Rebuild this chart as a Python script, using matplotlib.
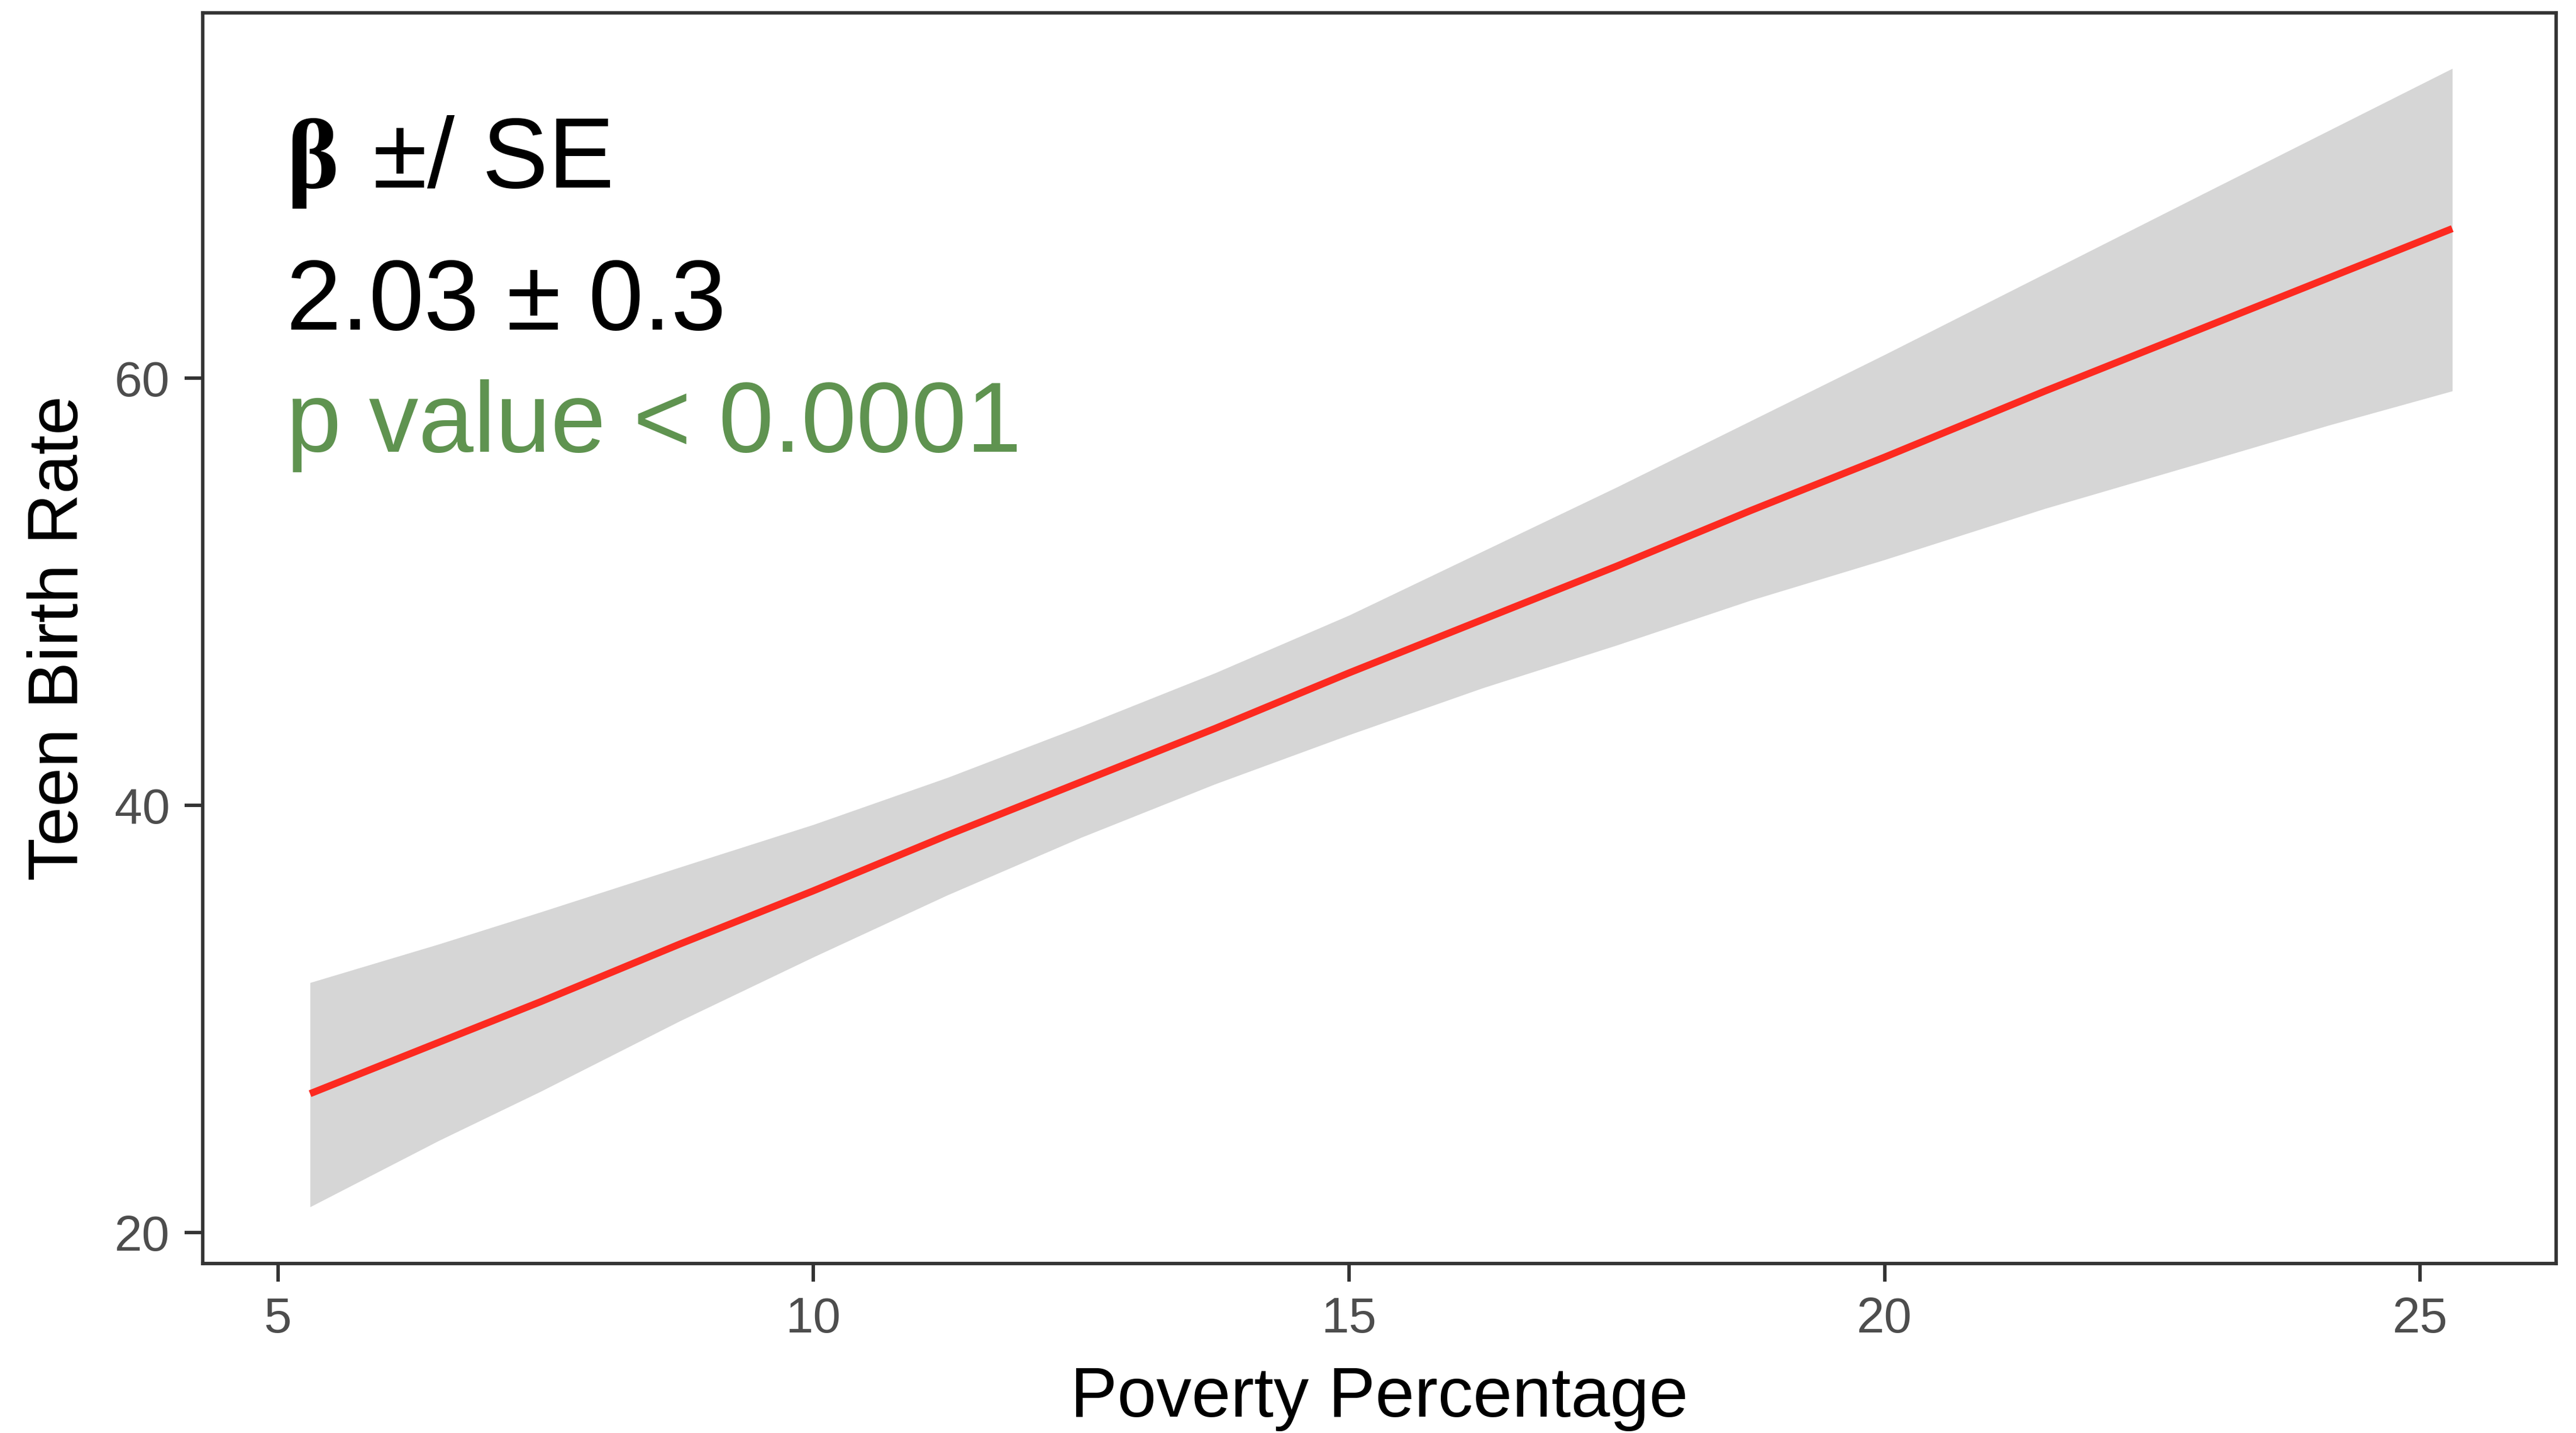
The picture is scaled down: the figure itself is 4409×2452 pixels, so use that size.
import matplotlib
matplotlib.use("Agg")
import matplotlib.pyplot as plt

plt.rcParams['font.family'] = ['Liberation Sans', 'DejaVu Sans']

# fitted line and its confidence band, teen birth rate vs poverty %
poverty = [5.3, 6.5, 7.45, 8.75, 10, 11.25, 12.5, 13.75, 15,
           16.25, 17.5, 18.75, 20, 21.5, 23.0, 24.15, 25.3]
fit = [26.5, 28.9, 30.8, 33.5, 36.0, 38.6, 41.1, 43.6, 46.2,
       48.7, 51.2, 53.8, 56.3, 59.4, 62.4, 64.7, 67.0]
upper = [31.7, 33.5, 35.0, 37.1, 39.1, 41.3, 43.7, 46.2, 48.9,
         51.9, 54.9, 58.0, 61.1, 64.9, 68.7, 71.6, 74.5]
lower = [21.2, 24.3, 26.6, 29.9, 32.9, 35.8, 38.5, 41.0, 43.3,
         45.5, 47.5, 49.6, 51.5, 53.9, 56.1, 57.8, 59.4]

xticks = [5, 10, 15, 20, 25]
yticks = [20, 40, 60]

beta = "\u03b2"
header = "\u00b1/ SE"
estimate = "2.03 \u00b1 0.3"
pvalue = "p value < 0.0001"

fig = plt.figure(figsize=(4409 / 300, 2452 / 300), dpi=300)
ax = fig.add_axes([0.0787, 0.1183, 0.9136, 0.8727])

ax.fill_between(poverty, lower, upper, color="#d6d6d6", linewidth=0, zorder=1)
ax.plot(poverty, fit, color="#fc2a20", linewidth=2.9, solid_capstyle="butt", zorder=2)

ax.set_xlim(4.298, 26.27)
ax.set_ylim(18.55, 77.1)
ax.set_xticks(xticks)
ax.set_yticks(yticks)

for s in ax.spines.values():
    s.set_color("#333333")
    s.set_linewidth(1.4)
ax.tick_params(length=7.5, width=1.4, color="#333333", labelsize=20.5,
               labelcolor="#4d4d4d")
ax.tick_params(axis="x", pad=6)
ax.tick_params(axis="y", pad=6)

ax.set_xlabel("Poverty Percentage", fontsize=28.9, color="black")
ax.set_ylabel("Teen Birth Rate", fontsize=28.9, color="black")
ax.xaxis.set_label_coords(0.5, -0.082)
ax.yaxis.set_label_coords(-0.047, 0.5)

# stats block in the upper left
b = ax.text(5.08, 68.92, beta, fontsize=40.7, fontweight="bold",
            family=["Liberation Serif", "DejaVu Serif"], va="baseline", ha="left")
ax.annotate(header, xy=(1, 68.92), xycoords=(b, "data"), xytext=(14, 0),
            textcoords="offset points", fontsize=40.7, va="baseline", ha="left")
ax.text(5.08, 62.27, estimate, fontsize=40.7, color="black", va="baseline", ha="left")
ax.text(5.08, 56.55, pvalue, fontsize=40.7, color="#5f9350", va="baseline", ha="left")

fig.savefig("out.png", dpi=300, facecolor="white")
